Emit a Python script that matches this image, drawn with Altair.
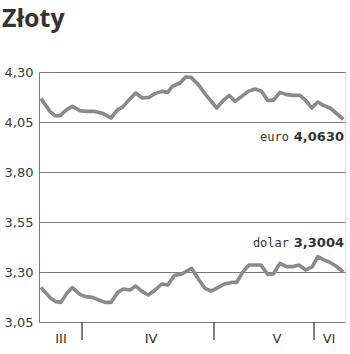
import altair as alt
import pandas as pd

# Trading-day positions (0..48 span of the chart) and rates
euro_day = [0.31, 1.73, 2.51, 3.29, 4.35, 5.22, 6.43, 7.48, 8.78, 10.09, 11.29, 12.35,
            13.07, 14.16, 15.17, 16.2, 17.25, 18.2, 19.25, 20.19, 20.91, 22.12, 23.01,
            23.84, 24.99, 26.15, 27.87, 28.91, 29.85, 30.75, 31.8, 32.83, 33.88, 34.93,
            35.87, 36.75, 37.8, 38.85, 39.89, 40.94, 41.84, 42.78, 43.72, 44.6, 45.65,
            46.7, 47.73]
euro_rate = [4.167, 4.103, 4.082, 4.082, 4.112, 4.128, 4.107, 4.103, 4.103, 4.092, 4.07,
             4.112, 4.123, 4.162, 4.195, 4.17, 4.173, 4.192, 4.203, 4.198, 4.228, 4.245,
             4.275, 4.273, 4.237, 4.187, 4.12, 4.158, 4.183, 4.153, 4.178, 4.203, 4.215,
             4.203, 4.158, 4.158, 4.198, 4.187, 4.183, 4.183, 4.158, 4.12, 4.15, 4.133,
             4.12, 4.092, 4.063]

dollar_day = [0.31, 1.73, 2.62, 3.45, 4.35, 5.22, 6.43, 7.32, 8.36, 9.41, 10.35, 11.29,
              12.35, 13.22, 14.27, 15.17, 16.2, 17.14, 18.2, 19.25, 20.19, 21.22, 22.38,
              23.95, 25.1, 26.04, 26.98, 27.87, 29.07, 30.23, 31.01, 31.89, 32.94, 33.88,
              34.82, 35.87, 36.75, 37.8, 38.85, 39.89, 40.78, 41.84, 42.87, 43.72, 44.75,
              45.65, 46.7, 47.73]
dollar_rate = [3.223, 3.172, 3.152, 3.148, 3.193, 3.222, 3.188, 3.177, 3.173, 3.16, 3.148,
               3.148, 3.198, 3.215, 3.21, 3.23, 3.202, 3.185, 3.21, 3.24, 3.235, 3.282,
               3.29, 3.318, 3.26, 3.218, 3.205, 3.218, 3.24, 3.248, 3.248, 3.297, 3.335,
               3.335, 3.335, 3.288, 3.29, 3.343, 3.327, 3.327, 3.335, 3.31, 3.327, 3.377,
               3.36, 3.348, 3.327, 3.30]

month_labels = ["III", "IV", "V", "VI"]
month_label_pos = [3.45, 17.57, 37.33, 45.5]
month_breaks = [6.75, 27.45, 43.14]

y_ticks = [3.05, 3.30, 3.55, 3.80, 4.05, 4.30]

series_names = ["euro", "dolar"]
last_values = ["4,0630", "3,3004"]

df = pd.concat([
    pd.DataFrame({"day": euro_day, "rate": euro_rate, "series": "euro"}),
    pd.DataFrame({"day": dollar_day, "rate": dollar_rate, "series": "dolar"}),
])

xs = alt.Scale(domain=[0, 48], nice=False, zero=False)
ys = alt.Scale(domain=[3.05, 4.30], nice=False, zero=False)

lines = alt.Chart(df).mark_line(color="#8a8a8a", strokeWidth=3.6, strokeJoin="round").encode(
    x=alt.X("day:Q", scale=xs, axis=None),
    y=alt.Y("rate:Q", scale=ys, title=None,
            axis=alt.Axis(values=y_ticks, grid=True, gridColor="#7a7a7a", gridWidth=1,
                          domainColor="#7a7a7a", ticks=False, labelPadding=6,
                          labelFont="DejaVu Sans", labelFontSize=13, labelColor="#3a3a3a",
                          labelExpr="replace(format(datum.value, '.2f'), '.', ',')")),
    detail="series:N",
)

breaks = alt.Chart(pd.DataFrame({"b": month_breaks})).mark_rule(color="#555", strokeWidth=1.5).encode(
    x=alt.X("b:Q", scale=xs),
    y=alt.value(250), y2=alt.value(268),
)

months = alt.Chart(pd.DataFrame({"m": month_labels, "p": month_label_pos})).mark_text(
    font="DejaVu Sans", fontSize=13, color="#333", baseline="alphabetic", align="center"
).encode(x=alt.X("p:Q", scale=xs), y=alt.value(271), text="m:N")

ann = pd.DataFrame({"name": series_names, "val": last_values, "ypix": [69, 175]})
ann_word = alt.Chart(ann).mark_text(
    font="DejaVu Sans Mono", fontSize=12, color="#333", align="right", baseline="alphabetic"
).encode(x=alt.value(250), y=alt.Y("ypix:Q", scale=None), text="name:N")
ann_val = alt.Chart(ann).mark_text(
    font="DejaVu Sans", fontSize=13, fontWeight="bold", color="#333", align="right",
    baseline="alphabetic"
).encode(x=alt.value(305), y=alt.Y("ypix:Q", scale=None), text="val:N")

title = alt.Chart(pd.DataFrame({"t": ["Złoty"]})).mark_text(
    font="Open Sans", fontSize=25, fontWeight="bold", color="#333", align="left",
    baseline="alphabetic"
).encode(x=alt.value(-37), y=alt.value(-45), text="t:N")

chart = alt.layer(lines, breaks, months, ann_word, ann_val, title).properties(
    width=306, height=250,
    autosize=alt.AutoSizeParams(type="none"),
    padding={"left": 39, "top": 72, "right": 5, "bottom": 32},
).configure_view(stroke="#c8c8c8", strokeWidth=1).configure(background="white")

chart.save("out.html", embed_options={"renderer": "svg", "actions": False})
